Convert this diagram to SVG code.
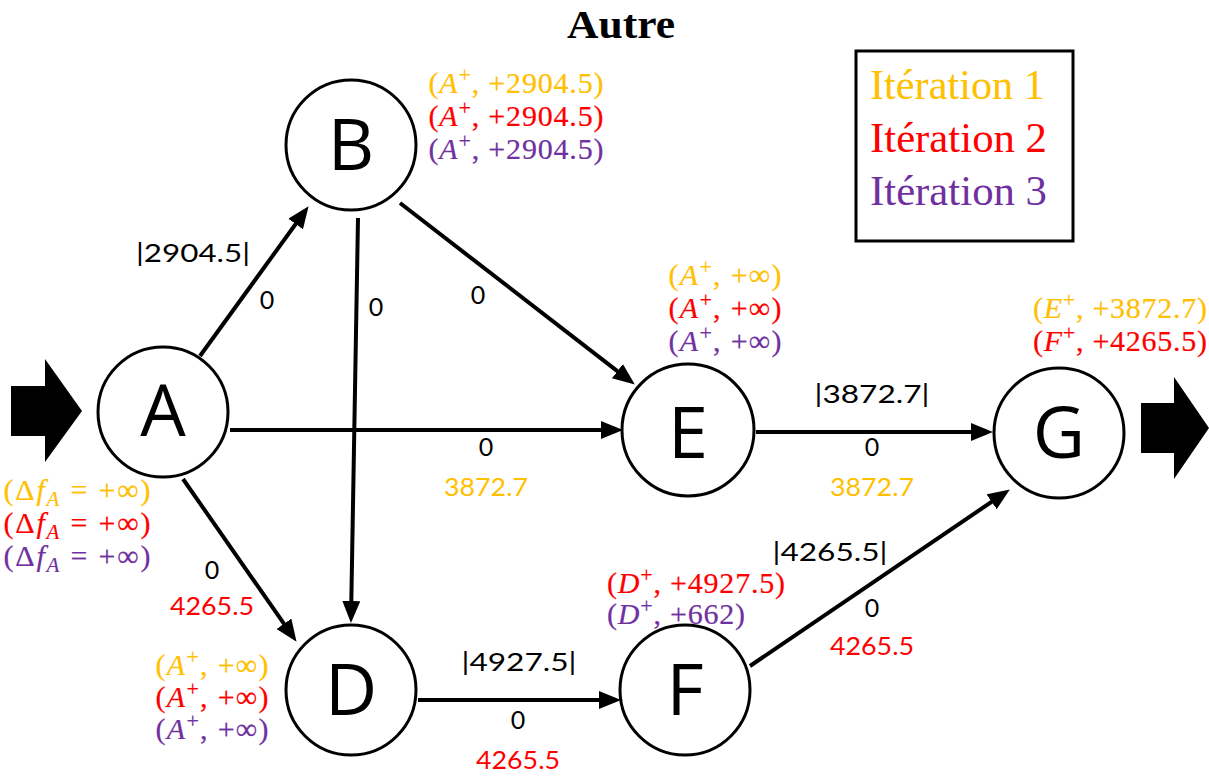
<svg xmlns="http://www.w3.org/2000/svg" width="1209" height="776" viewBox="0 0 1209 776">
  <style>
    .node circle { fill: #fff; stroke: #000; stroke-width: 3; }
    .node .lbl { font-family: "Open Sans", "Noto Sans", sans-serif; font-size: 72px; text-anchor: middle; fill: #000; }
    .edge { stroke: #000; stroke-width: 4; fill: none; marker-end: url(#arr); }
    .el { font-family: Lato, "Open Sans", sans-serif; font-size: 25px; text-anchor: middle; fill: #000; }
    .m { font-family: "Liberation Serif", "DejaVu Serif", serif; font-size: 30px; text-anchor: middle; stroke-width: 0.2; }
    .i { font-style: italic; }
    .o { fill: #FFC000; }
    .r { fill: #FF0000; }
    .p { fill: #7030A0; }
    .m.o { stroke: #FFC000; }
    .m.r { stroke: #FF0000; }
    .m.p { stroke: #7030A0; }
    .leg { font-family: "Liberation Serif", "Times New Roman", serif; font-size: 42px; }
  </style>
  <defs>
    <marker id="arr" markerUnits="userSpaceOnUse" markerWidth="24" markerHeight="20" refX="13" refY="9" orient="auto">
      <path d="M0,0 L22,9 L0,18 z" fill="#000"/>
    </marker>
  </defs>
  <rect width="1209" height="776" fill="#fff"/>

  <!-- title -->
  <text x="621" y="38" font-family="Liberation Serif, serif" font-weight="bold" font-size="40" text-anchor="middle" textLength="108" lengthAdjust="spacingAndGlyphs">Autre</text>

  <!-- legend -->
  <g id="legend">
    <rect x="856" y="51" width="217" height="190" fill="#fff" stroke="#000" stroke-width="3"/>
    <text class="leg o" x="870" y="99" textLength="175" lengthAdjust="spacingAndGlyphs">Itération 1</text>
    <text class="leg r" x="870" y="152" textLength="177" lengthAdjust="spacingAndGlyphs">Itération 2</text>
    <text class="leg p" x="870" y="205" textLength="177" lengthAdjust="spacingAndGlyphs">Itération 3</text>
  </g>

  <!-- source and sink arrows -->
  <polygon id="in-arrow" points="11,386 45,386 45,359 82,411 45,462 45,436 11,436" fill="#000"/>
  <polygon id="out-arrow" points="1141,403 1174,403 1174,377 1209,428 1174,479 1174,453 1141,453" fill="#000"/>

  <!-- connectors -->
  <g id="connectors">
    <line class="edge" x1="200" y1="356" x2="303.3" y2="213.5"/>
    <line class="edge" x1="358" y1="218" x2="351.1" y2="614"/>
    <line class="edge" x1="400" y1="203" x2="627.7" y2="379.1"/>
    <line class="edge" x1="230" y1="430" x2="614" y2="430"/>
    <line class="edge" x1="183" y1="479" x2="291.4" y2="634.4"/>
    <line class="edge" x1="756" y1="432" x2="984" y2="432"/>
    <line class="edge" x1="418" y1="700" x2="612" y2="700"/>
    <line class="edge" x1="750" y1="666" x2="1002.4" y2="494.5"/>

    <!-- edge labels -->
    <text class="el" x="193" y="262" textLength="114" lengthAdjust="spacingAndGlyphs">|2904.5|</text>
    <text class="el" x="267" y="309">0</text>
    <text class="el" x="376" y="316">0</text>
    <text class="el" x="478" y="304">0</text>
    <text class="el" x="486" y="456">0</text>
    <text class="el o" x="486" y="496" textLength="84" lengthAdjust="spacingAndGlyphs">3872.7</text>
    <text class="el" x="872" y="403" textLength="115" lengthAdjust="spacingAndGlyphs">|3872.7|</text>
    <text class="el" x="872" y="456">0</text>
    <text class="el o" x="872" y="496" textLength="84" lengthAdjust="spacingAndGlyphs">3872.7</text>
    <text class="el" x="212" y="579">0</text>
    <text class="el r" x="212" y="615" textLength="84" lengthAdjust="spacingAndGlyphs">4265.5</text>
    <text class="el" x="519" y="671" textLength="115" lengthAdjust="spacingAndGlyphs">|4927.5|</text>
    <text class="el" x="518" y="729">0</text>
    <text class="el r" x="518" y="769" textLength="84" lengthAdjust="spacingAndGlyphs">4265.5</text>
    <text class="el" x="830" y="561" textLength="115" lengthAdjust="spacingAndGlyphs">|4265.5|</text>
    <text class="el" x="872" y="617">0</text>
    <text class="el r" x="872" y="655" textLength="84" lengthAdjust="spacingAndGlyphs">4265.5</text>
  </g>

  <!-- nodes -->
  <g id="node-A" class="node">
    <circle cx="163" cy="412" r="65"/>
    <text class="lbl" x="163" y="436">A</text>
    <text class="m o" x="77" y="500" textLength="147" lengthAdjust="spacing">(Δ<tspan class="i">f</tspan><tspan class="i" dy="6" font-size="21">A</tspan><tspan dy="-6"> = +∞)</tspan></text>
    <text class="m r" x="77" y="533" textLength="147" lengthAdjust="spacing">(Δ<tspan class="i">f</tspan><tspan class="i" dy="6" font-size="21">A</tspan><tspan dy="-6"> = +∞)</tspan></text>
    <text class="m p" x="77" y="566" textLength="147" lengthAdjust="spacing">(Δ<tspan class="i">f</tspan><tspan class="i" dy="6" font-size="21">A</tspan><tspan dy="-6"> = +∞)</tspan></text>
  </g>

  <g id="node-B" class="node">
    <circle cx="351" cy="145" r="65"/>
    <text class="lbl" x="351" y="170">B</text>
    <text class="m o" x="516" y="93" textLength="175" lengthAdjust="spacing">(<tspan class="i">A</tspan><tspan dy="-11" font-size="22">+</tspan><tspan dy="11">, +2904.5)</tspan></text>
    <text class="m r" x="516" y="126" textLength="175" lengthAdjust="spacing">(<tspan class="i">A</tspan><tspan dy="-11" font-size="22">+</tspan><tspan dy="11">, +2904.5)</tspan></text>
    <text class="m p" x="516" y="159" textLength="175" lengthAdjust="spacing">(<tspan class="i">A</tspan><tspan dy="-11" font-size="22">+</tspan><tspan dy="11">, +2904.5)</tspan></text>
  </g>

  <g id="node-E" class="node">
    <circle cx="688" cy="430" r="66"/>
    <text class="lbl" x="688" y="458">E</text>
    <text class="m o" x="725" y="285" textLength="113" lengthAdjust="spacing">(<tspan class="i">A</tspan><tspan dy="-11" font-size="22">+</tspan><tspan dy="11">, +∞)</tspan></text>
    <text class="m r" x="725" y="318" textLength="113" lengthAdjust="spacing">(<tspan class="i">A</tspan><tspan dy="-11" font-size="22">+</tspan><tspan dy="11">, +∞)</tspan></text>
    <text class="m p" x="725" y="351" textLength="113" lengthAdjust="spacing">(<tspan class="i">A</tspan><tspan dy="-11" font-size="22">+</tspan><tspan dy="11">, +∞)</tspan></text>
  </g>

  <g id="node-G" class="node">
    <circle cx="1059" cy="433" r="65"/>
    <text class="lbl" x="1059" y="458">G</text>
    <text class="m o" x="1120" y="318" textLength="174" lengthAdjust="spacing">(<tspan class="i">E</tspan><tspan dy="-11" font-size="22">+</tspan><tspan dy="11">, +3872.7)</tspan></text>
    <text class="m r" x="1120" y="351" textLength="174" lengthAdjust="spacing">(<tspan class="i">F</tspan><tspan dy="-11" font-size="22">+</tspan><tspan dy="11">, +4265.5)</tspan></text>
  </g>

  <g id="node-D" class="node">
    <circle cx="351" cy="690" r="65"/>
    <text class="lbl" x="351" y="715">D</text>
    <text class="m o" x="212" y="675" textLength="113" lengthAdjust="spacing">(<tspan class="i">A</tspan><tspan dy="-11" font-size="22">+</tspan><tspan dy="11">, +∞)</tspan></text>
    <text class="m r" x="212" y="707" textLength="113" lengthAdjust="spacing">(<tspan class="i">A</tspan><tspan dy="-11" font-size="22">+</tspan><tspan dy="11">, +∞)</tspan></text>
    <text class="m p" x="212" y="739" textLength="113" lengthAdjust="spacing">(<tspan class="i">A</tspan><tspan dy="-11" font-size="22">+</tspan><tspan dy="11">, +∞)</tspan></text>
  </g>

  <g id="node-F" class="node">
    <circle cx="685" cy="690" r="65"/>
    <text class="lbl" x="685" y="715">F</text>
    <text class="m r" x="696" y="593" textLength="178" lengthAdjust="spacing">(<tspan class="i">D</tspan><tspan dy="-11" font-size="22">+</tspan><tspan dy="11">, +4927.5)</tspan></text>
    <text class="m p" x="676" y="624" textLength="138" lengthAdjust="spacing">(<tspan class="i">D</tspan><tspan dy="-11" font-size="22">+</tspan><tspan dy="11">, +662)</tspan></text>
  </g>
</svg>
